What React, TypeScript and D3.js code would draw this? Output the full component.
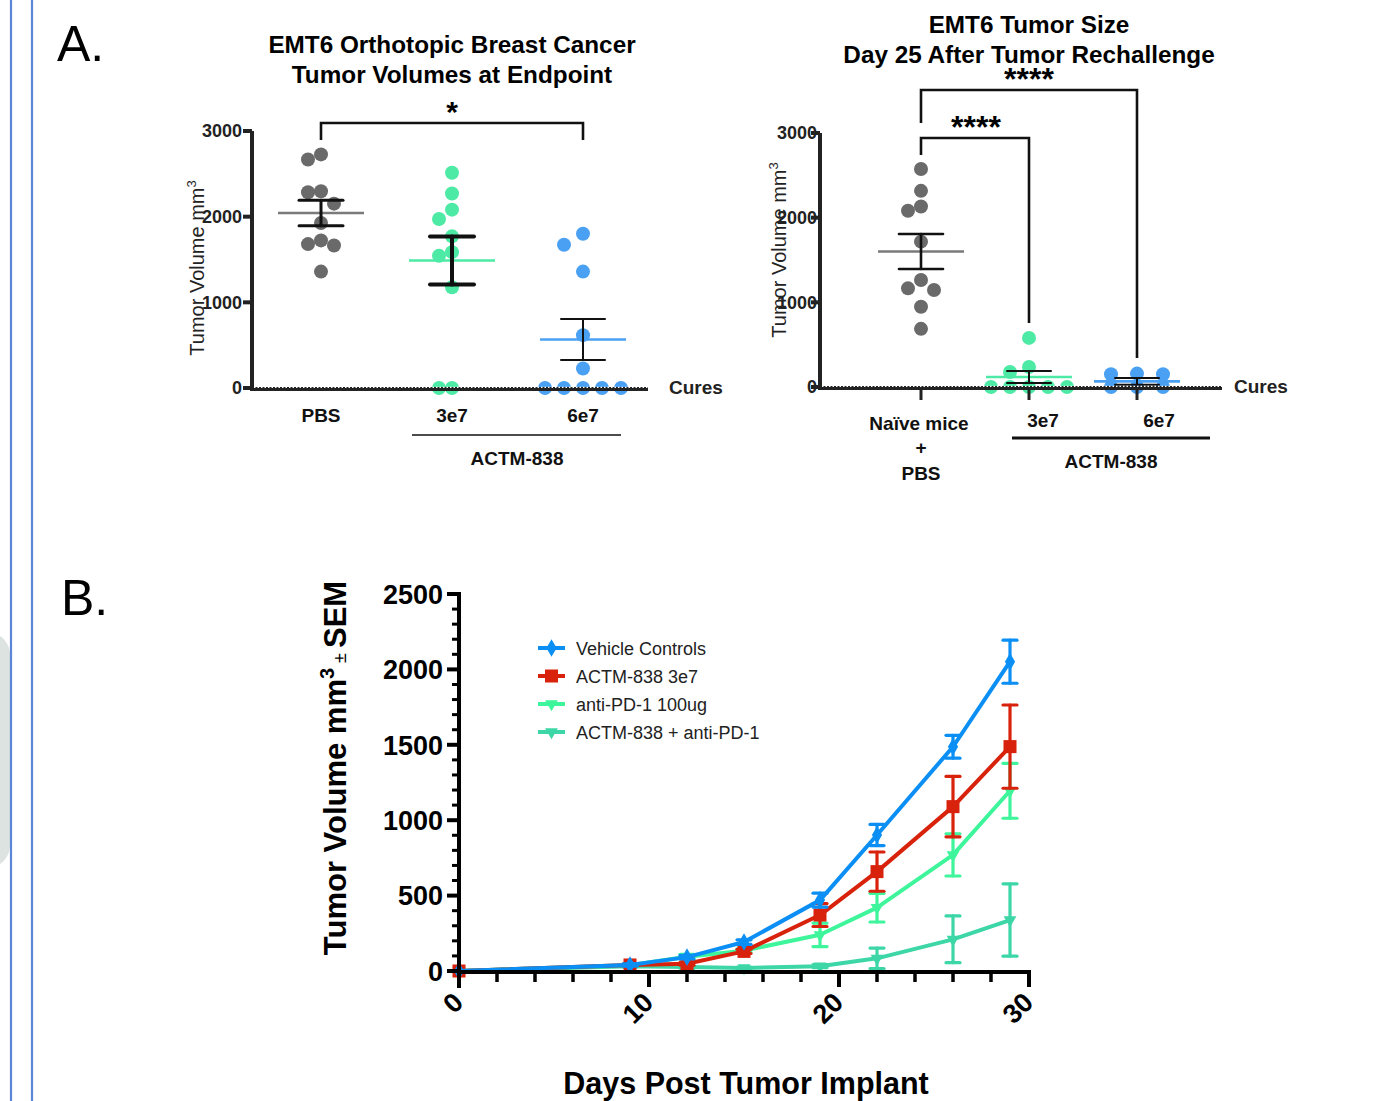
import React from "react";
import * as d3 from "d3";

// ---- panel A left: endpoint volumes ----
const groupsA = ["PBS", "3e7", "6e7"];
const pbsEndpoint = [2727, 2668, 2297, 2285, 2152, 1926, 1723, 1680, 1664, 1359];
const low3e7Endpoint = [2512, 2270, 2082, 1973, 1770, 1586, 1543, 1176, 0, 0];
const high6e7Endpoint = [1801, 1672, 1359, 617, 227, 0, 0, 0, 0, 0];
const meanA = [2043, 1488, 566];
const semA = [148, 280, 238];

// ---- panel A right: rechallenge ----
const groupsR = ["Naïve mice", "3e7", "6e7"];
const naiveRechallenge = [2574, 2317, 2132, 2081, 1717, 1263, 1165, 1145, 947, 687];
const low3e7Rechallenge = [580, 237, 178, 0, 0, 0, 0, 0];
const high6e7Rechallenge = [158, 150, 150, 0, 0, 0];
const meanR = [1600, 118, 67];
const semR = [207, 72, 40];

const yTicksA = [0, 1000, 2000, 3000];

// ---- panel B: growth curves ----
const days = [0, 9, 12, 15, 19, 22, 26, 29];
const seriesNames = ["Vehicle Controls", "ACTM-838 3e7", "anti-PD-1 100ug", "ACTM-838 + anti-PD-1"];
const vehicleMean = [0, 40, 92, 192, 470, 902, 1487, 2051];
const vehicleSem = [0, 8, 12, 15, 46, 70, 76, 143];
const actmMean = [0, 40, 48, 130, 371, 659, 1090, 1488];
const actmSem = [0, 6, 10, 14, 76, 130, 200, 276];
const pd1Mean = [0, 38, 95, 135, 240, 420, 770, 1195];
const pd1Sem = [0, 6, 15, 12, 78, 95, 140, 182];
const comboMean = [0, 32, 26, 20, 32, 84, 210, 338];
const comboSem = [0, 5, 8, 6, 10, 68, 155, 240];
const yTicksB = [0, 500, 1000, 1500, 2000, 2500];
const xTicksB = [0, 10, 20, 30];

const FONT = "'Liberation Sans', Arial, Helvetica, sans-serif";
const grayDot = "#6a6a6a";
const mint = "#4deaa6";
const skyBlue = "#4aa0f2";

// simple beeswarm: highest values first, each dot takes the nearest free column
function swarm(values: number[], y: (v: number) => number, cx: number, step: number, minDist: number) {
  const placed: { x: number; y: number }[] = [];
  const out: { x: number; y: number }[] = new Array(values.length);
  const order = values.map((_, i) => i).sort((a, b) => values[b] - values[a]);
  for (const i of order) {
    const yy = y(values[i]);
    for (let k = 0; k < 30; k++) {
      const col = k === 0 ? 0 : k % 2 ? -Math.ceil(k / 2) : Math.ceil(k / 2);
      const xx = cx + col * step;
      if (placed.every((p) => Math.hypot(p.x - xx, p.y - yy) >= minDist)) {
        placed.push({ x: xx, y: yy });
        out[i] = { x: xx, y: yy };
        break;
      }
    }
  }
  return out;
}

const ScatterGroup = ({ values, color, cx, y, step, mean, sem, meanColor, barWidth }: any) => {
  const pts = swarm(values, y, cx, step, 12.5);
  return (
    <g>
      {pts.map((p, i) => (
        <circle key={i} cx={p.x} cy={p.y} r={7} fill={color} />
      ))}
      <line x1={cx - 43} x2={cx + 43} y1={y(mean)} y2={y(mean)} stroke={meanColor} strokeWidth={2.6} />
      <g stroke="#111" strokeWidth={barWidth} strokeLinecap="round">
        <line x1={cx} x2={cx} y1={y(mean + sem)} y2={y(Math.max(mean - sem, 0))} />
        <line x1={cx - 22} x2={cx + 22} y1={y(mean + sem)} y2={y(mean + sem)} />
        <line x1={cx - 22} x2={cx + 22} y1={y(Math.max(mean - sem, 0))} y2={y(Math.max(mean - sem, 0))} />
      </g>
    </g>
  );
};

const App = () => {
  // left panel scales
  const yL = d3.scaleLinear().domain([0, 3000]).range([388, 131]);
  const xL = d3.scalePoint<string>().domain(groupsA).range([321, 583]);
  // right panel scales
  const yR = d3.scaleLinear().domain([0, 3000]).range([387, 133]);
  const xR = d3.scalePoint<string>().domain(groupsR).range([921, 1137]);
  // panel B scales
  const xB = d3.scaleLinear().domain([0, 30]).range([459, 1029]);
  const yB = d3.scaleLinear().domain([0, 2500]).range([971, 594]);

  const dataA = [pbsEndpoint, low3e7Endpoint, high6e7Endpoint];
  const dataR = [naiveRechallenge, low3e7Rechallenge, high6e7Rechallenge];
  const colors = [grayDot, mint, skyBlue];
  const meanColors = ["#7a7a7a", mint, skyBlue];

  const series = [
    { name: seriesNames[3], mean: comboMean, sem: comboSem, color: "#3dd6a6", symbol: "tri" },
    { name: seriesNames[2], mean: pd1Mean, sem: pd1Sem, color: "#3ef59b", symbol: "tri" },
    { name: seriesNames[1], mean: actmMean, sem: actmSem, color: "#d8220c", symbol: "square" },
    { name: seriesNames[0], mean: vehicleMean, sem: vehicleSem, color: "#0b8ff5", symbol: "diamond" },
  ];
  const legendOrder = [3, 2, 1, 0];

  const line = d3
    .line<number>()
    .x((_, i) => xB(days[i]))
    .y((d) => yB(d));

  const marker = (type: string, x: number, y: number, color: string, key?: any) => {
    if (type === "square") return <rect key={key} x={x - 6.5} y={y - 6.5} width={13} height={13} fill={color} />;
    if (type === "diamond")
      return <path key={key} d={d3.symbol(d3.symbolDiamond, 90)()!} transform={`translate(${x},${y})`} fill={color} />;
    return <path key={key} d={d3.symbol(d3.symbolTriangle, 70)()!} transform={`translate(${x},${y}) rotate(180)`} fill={color} />;
  };

  const minorY = d3.range(0, 2501, 100).filter((v) => v % 500 !== 0);
  const minorX = d3.range(0, 31, 2).filter((v) => v % 10 !== 0);

  return (
    <svg width={1383} height={1101} style={{ position: "absolute", left: 0, top: 0, background: "#fff" }} fontFamily={FONT}>
      {/* page decorations */}
      <rect x={-30} y={633} width={40} height={234} rx={22} fill="#dde3e0" />
      <line x1={11} x2={11} y1={0} y2={1101} stroke="#5b86d6" strokeWidth={2.2} />
      <line x1={32} x2={32} y1={0} y2={1101} stroke="#5b86d6" strokeWidth={2.2} />

      <text x={57} y={61} fontSize={50}>A.</text>
      <text x={61} y={615} fontSize={50}>B.</text>

      {/* ===== Panel A left ===== */}
      <g fontWeight="bold" fontSize={24.3} textAnchor="middle">
        <text x={452} y={53}>EMT6 Orthotopic Breast Cancer</text>
        <text x={452} y={83}>Tumor Volumes at Endpoint</text>
      </g>
      {dataA.map((vals, gi) => (
        <ScatterGroup
          key={gi}
          values={vals}
          color={colors[gi]}
          cx={xL(groupsA[gi])}
          y={yL}
          step={[13, 13, 19][gi]}
          mean={meanA[gi]}
          sem={semA[gi]}
          meanColor={meanColors[gi]}
          barWidth={[3, 4, 2][gi]}
        />
      ))}
      <line x1={252} x2={252} y1={yL(3000)} y2={390} stroke="#222" strokeWidth={4} />
      {yTicksA.map((t) => (
        <g key={t}>
          <line x1={243} x2={252} y1={yL(t)} y2={yL(t)} stroke="#222" strokeWidth={4} />
          <text x={242} y={yL(t)} dy="0.35em" textAnchor="end" fontSize={18} fontWeight="bold" fill="#222">{t}</text>
        </g>
      ))}
      <line x1={250} x2={648} y1={389} y2={389} stroke="#222" strokeWidth={4} />
      <line x1={254} x2={648} y1={387.3} y2={387.3} stroke="#fff" strokeWidth={1.2} strokeDasharray="1.5 2" />
      <text transform="translate(204,268) rotate(-90)" textAnchor="middle" fontSize={20} fill="#222">
        Tumor Volume mm<tspan fontSize={13} dy={-8}>3</tspan>
      </text>
      <text x={669} y={394} fontSize={19} fontWeight="bold" fill="#222">Cures</text>
      <g fontSize={19} fontWeight="bold" textAnchor="middle" fill="#111">
        {groupsA.map((g) => (
          <text key={g} x={xL(g)!} y={422}>{g}</text>
        ))}
        <text x={517} y={465}>ACTM-838</text>
      </g>
      <line x1={412} x2={621} y1={435} y2={435} stroke="#111" strokeWidth={1.3} />
      <path d={`M${xL("PBS")},140V123H${xL("6e7")}V140`} fill="none" stroke="#111" strokeWidth={2.6} />
      <text x={452} y={122} textAnchor="middle" fontSize={30} fontWeight="bold">*</text>

      {/* ===== Panel A right ===== */}
      <g fontWeight="bold" fontSize={24.3} textAnchor="middle">
        <text x={1029} y={33}>EMT6 Tumor Size</text>
        <text x={1029} y={63}>Day 25 After Tumor Rechallenge</text>
      </g>
      {dataR.map((vals, gi) => (
        <ScatterGroup
          key={gi}
          values={vals}
          color={colors[gi]}
          cx={xR(groupsR[gi])}
          y={yR}
          step={[13, 19, 26][gi]}
          mean={meanR[gi]}
          sem={semR[gi]}
          meanColor={meanColors[gi]}
          barWidth={[2.6, 2, 2][gi]}
        />
      ))}
      <line x1={820} x2={820} y1={yR(3000)} y2={389} stroke="#222" strokeWidth={4} />
      {yTicksA.map((t) => (
        <g key={t}>
          <line x1={811} x2={820} y1={yR(t)} y2={yR(t)} stroke="#222" strokeWidth={4} />
          <text x={817} y={yR(t)} dy="0.35em" textAnchor="end" fontSize={18} fontWeight="bold" fill="#222">{t}</text>
        </g>
      ))}
      <line x1={818} x2={1222} y1={388} y2={388} stroke="#222" strokeWidth={4} />
      <line x1={822} x2={1222} y1={386.3} y2={386.3} stroke="#fff" strokeWidth={1.2} strokeDasharray="1.5 2" />
      {groupsR.map((g) => (
        <line key={g} x1={xR(g)!} x2={xR(g)!} y1={388} y2={400} stroke="#222" strokeWidth={3} />
      ))}
      <text transform="translate(786,250) rotate(-90)" textAnchor="middle" fontSize={20} fill="#222">
        Tumor Volume mm<tspan fontSize={13} dy={-8}>3</tspan>
      </text>
      <text x={1234} y={393} fontSize={19} fontWeight="bold" fill="#222">Cures</text>
      <g fontSize={19} fontWeight="bold" textAnchor="middle" fill="#111">
        <text x={919} y={430}>Naïve mice</text>
        <text x={921} y={454}>+</text>
        <text x={921} y={480}>PBS</text>
        <text x={1043} y={427}>3e7</text>
        <text x={1159} y={427}>6e7</text>
        <text x={1111} y={468}>ACTM-838</text>
      </g>
      <line x1={1012} x2={1210} y1={438} y2={438} stroke="#111" strokeWidth={3} />
      <path d={`M${xR("Naïve mice")},155V138H${xR("3e7")}V323`} fill="none" stroke="#111" strokeWidth={2.6} />
      <path d={`M${xR("Naïve mice")},123V90H${xR("6e7")}V358`} fill="none" stroke="#111" strokeWidth={2.6} />
      <text x={976} y={138} textAnchor="middle" fontSize={32} fontWeight="bold">****</text>
      <text x={1029} y={90} textAnchor="middle" fontSize={32} fontWeight="bold">****</text>

      {/* ===== Panel B ===== */}
      {series.map((s) => (
        <g key={s.name}>
          <path d={line(s.mean)!} fill="none" stroke={s.color} strokeWidth={4} strokeLinejoin="round" />
          {s.mean.map((m, i) => {
            const x = xB(days[i]);
            if (s.sem[i] < 3) return null;
            return (
              <g key={i} stroke={s.color} strokeWidth={3.2} strokeLinecap="round">
                <line x1={x} x2={x} y1={yB(m + s.sem[i])} y2={yB(Math.max(m - s.sem[i], 0))} />
                <line x1={x - 7} x2={x + 7} y1={yB(m + s.sem[i])} y2={yB(m + s.sem[i])} />
                <line x1={x - 7} x2={x + 7} y1={yB(Math.max(m - s.sem[i], 0))} y2={yB(Math.max(m - s.sem[i], 0))} />
              </g>
            );
          })}
          {s.mean.map((m, i) => marker(s.symbol, xB(days[i]), yB(m), s.color, i))}
        </g>
      ))}
      <line x1={459} x2={459} y1={592} y2={988} stroke="#000" strokeWidth={4} />
      {yTicksB.map((t) => (
        <g key={t}>
          <line x1={447} x2={459} y1={yB(t)} y2={yB(t)} stroke="#000" strokeWidth={4} />
          <text x={443} y={yB(t)} dy="0.36em" textAnchor="end" fontSize={27} fontWeight="bold">{t}</text>
        </g>
      ))}
      {minorY.map((t) => (
        <line key={t} x1={452} x2={459} y1={yB(t)} y2={yB(t)} stroke="#000" strokeWidth={3} />
      ))}
      <line x1={457} x2={1031} y1={972} y2={972} stroke="#000" strokeWidth={4} />
      {xTicksB.map((t) => (
        <g key={t}>
          <line x1={xB(t)} x2={xB(t)} y1={972} y2={987} stroke="#000" strokeWidth={4} />
          <text transform={`translate(${xB(t) + 6},1004) rotate(-45)`} textAnchor="end" fontSize={27} fontWeight="bold">{t}</text>
        </g>
      ))}
      {minorX.map((t) => (
        <line key={t} x1={xB(t)} x2={xB(t)} y1={972} y2={982} stroke="#000" strokeWidth={3.5} />
      ))}
      <text transform="translate(346,768) rotate(-90)" textAnchor="middle" fontSize={31} fontWeight="bold">
        Tumor Volume mm<tspan fontSize={20} dy={-12}>3</tspan>
        <tspan fontSize={18} fontWeight="normal" dy={12}> ± </tspan>SEM
      </text>
      <text x={746} y={1094} textAnchor="middle" fontSize={30.5} fontWeight="bold">Days Post Tumor Implant</text>

      {/* legend */}
      {legendOrder.map((si, r) => {
        const s = series[si];
        const y = 648 + r * 28;
        return (
          <g key={s.name}>
            <line x1={538} x2={565} y1={y} y2={y} stroke={s.color} strokeWidth={4} />
            {marker(s.symbol, 551.5, y, s.color)}
            <text x={576} y={y + 6.5} fontSize={18} fill="#222">{s.name}</text>
          </g>
        );
      })}
    </svg>
  );
};

export default App;
